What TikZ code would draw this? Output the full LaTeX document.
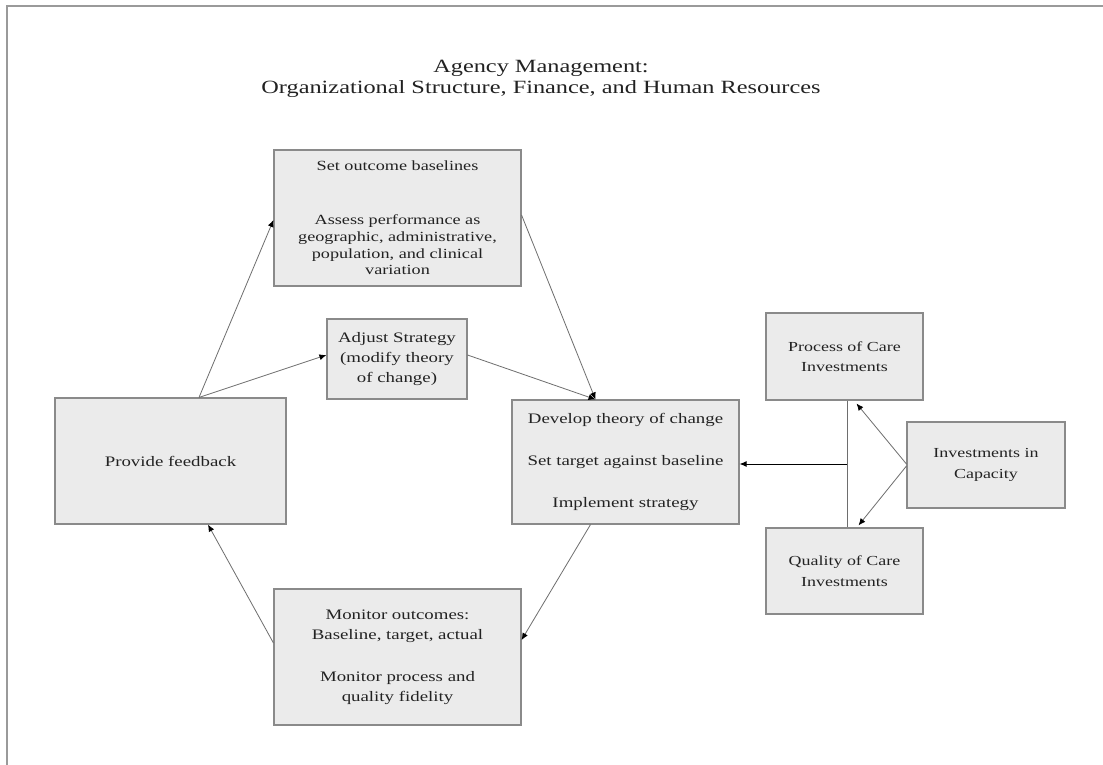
\documentclass[tikz,border=0pt]{standalone}
\usepackage{fontspec}
\setmainfont[FakeStretch=1.3]{Liberation Serif}
\usetikzlibrary{arrows.meta}
\definecolor{boxfill}{HTML}{EBEBEB}
\definecolor{boxline}{HTML}{8A8A8A}
\definecolor{lnk}{HTML}{6E6E6E}
\definecolor{txt}{HTML}{222222}
\definecolor{frame}{HTML}{9A9A9A}
\begin{document}
\begin{tikzpicture}[x=1pt,y=-1pt,
  box/.style={draw=boxline, line width=1.1pt, fill=boxfill, align=center,
    inner sep=0pt, text=txt, font=\fontsize{14.5}{20}\selectfont},
  link/.style={draw=lnk, line width=0.8pt},
  arr/.style={link, -{Latex[length=7pt,width=6pt,color=black]}}]
\useasboundingbox (0,0) rectangle (1103,765);
\fill[white] (0,0) rectangle (1103,765);
\draw[frame, line width=1.2pt] (1103,6) -- (7,6) -- (7,765);

\node[text=txt, align=center, font=\fontsize{18.7}{21}\selectfont] (title) at (541,79)
  {Agency Management:\\Organizational Structure, Finance, and Human Resources};

\node[box, minimum width=247pt, minimum height=136pt, font=\fontsize{14}{16.8}\selectfont] (base) at (397.5,218)
  {Set outcome baselines\\[37pt]Assess performance as\\geographic, administrative,\\population, and clinical\\variation};
\node[box, minimum width=140pt, minimum height=80pt] (adjust) at (397,359)
  {Adjust Strategy\\(modify theory\\of change)};
\node[box, minimum width=231pt, minimum height=126pt] (feedback) at (170.5,461)
  {Provide feedback};
\node[box, minimum width=227pt, minimum height=124pt] (develop) at (625.5,462)
  {Develop theory of change\\[22pt]Set target against baseline\\[22pt]Implement strategy};
\node[box, minimum width=247pt, minimum height=136pt] (monitor) at (397.5,657)
  {Monitor outcomes:\\Baseline, target, actual\\[22pt]Monitor process and\\quality fidelity};
\node[box, minimum width=157pt, minimum height=87pt, font=\fontsize{13.8}{20.5}\selectfont] (process) at (844.5,356.5)
  {Process of Care\\Investments};
\node[box, minimum width=158pt, minimum height=86pt, font=\fontsize{13.8}{20.5}\selectfont] (capacity) at (986,465)
  {Investments in\\Capacity};
\node[box, minimum width=157pt, minimum height=86pt, font=\fontsize{13.8}{20.5}\selectfont] (quality) at (844.5,571)
  {Quality of Care\\Investments};

\coordinate (fbtop) at ([xshift=28.5pt]feedback.north);
\coordinate (devtop) at ([xshift=-30pt]develop.north);
\draw[arr] (fbtop) -- ([yshift=-2pt]base.west);
\draw[arr] (fbtop) -- ([yshift=4pt]adjust.west);
\draw[arr] ([yshift=4pt]adjust.east) -- (devtop);
\draw[arr] ([yshift=3pt]base.east) -- (devtop);
\draw[arr] ([xshift=-35pt]develop.south) -- ([yshift=17pt]monitor.east);
\draw[arr] ([yshift=14pt]monitor.west) -- ([xshift=37.5pt]feedback.south);

\coordinate (vx) at (847,464);
\draw[link] (process.south -| vx) -- (quality.north -| vx);
\draw[arr, draw=black, line width=1pt] (vx) -- (vx -| develop.east);
\draw[arr] ([yshift=1pt]capacity.west) -- ([xshift=12pt,yshift=-3pt]process.south);
\draw[arr] ([yshift=-1pt]capacity.west) -- ([xshift=14pt,yshift=2pt]quality.north);
\end{tikzpicture}
\end{document}
